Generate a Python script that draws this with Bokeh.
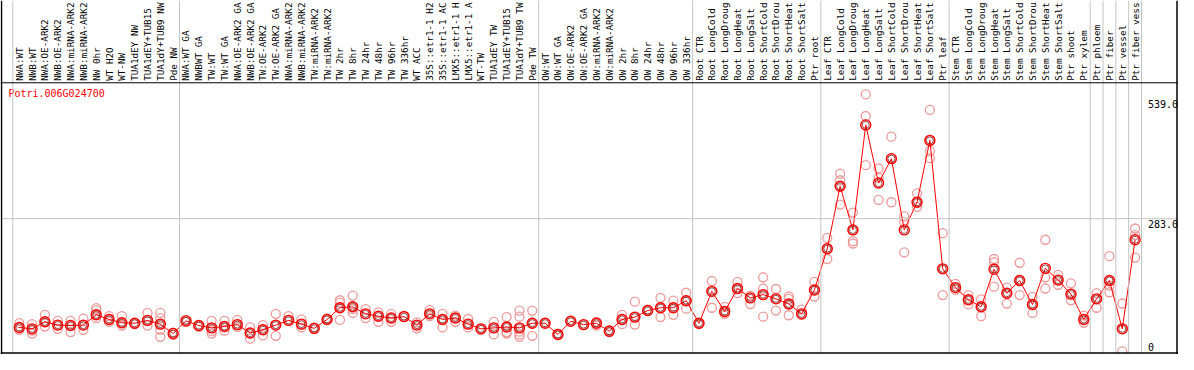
import numpy as np
from bokeh.plotting import figure
from bokeh.models import Range1d, Span
from bokeh.core.properties import value
from bokeh.embed import file_html
from bokeh.resources import INLINE

gene = "Potri.006G024700"

# category labels as they are visible in the header
categories = [
    "NWA:WT", "NWB:WT", "NWA:OE-ARK2", "NWB:OE-ARK2", "NWA:miRNA-ARK2", "NWB:miRNA-ARK2",
    "NW 0hr", "WT H2O", "WT-NW", "TUA1dEY NW", "TUA1dEY+TUB15", "TUA1dY+TUB9 NW", "Pde NW",
    "NWA:WT GA", "NWBWT GA", "TW:WT", "TW:WT GA", "NWA:OE-ARK2 GA", "NWB:OE-ARK2 GA",
    "TW:OE-ARK2", "TW:OE-ARK2 GA", "NWA:miRNA-ARK2", "NWB:miRNA-ARK2", "TW:miRNA-ARK2",
    "TW:miRNA-ARK2", "TW 2hr", "TW 8hr", "TW 24hr", "TW 48hr", "TW 96hr", "TW 336hr",
    "WT ACC", "35S::etr1-1 H2", "35S::etr1-1 AC", "LMX5::etr1-1 H", "LMX5::etr1-1 A",
    "WT-TW", "TUA1dEY TW", "TUA1dEY+TUB15", "TUA1dY+TUB9 TW", "Pde TW",
    "OW:WT", "OW:WT GA", "OW:OE-ARK2", "OW:OE-ARK2 GA", "OW:miRNA-ARK2", "OW:miRNA-ARK2",
    "OW 2hr", "OW 8hr", "OW 24hr", "OW 48hr", "OW 96hr", "OW 336hr",
    "Root CTR", "Root LongCold", "Root LongDroug", "Root LongHeat", "Root LongSalt",
    "Root ShortCold", "Root ShortDrou", "Root ShortHeat", "Root ShortSalt", "Ptr root",
    "Leaf CTR", "Leaf LongCold", "Leaf LongDroug", "Leaf LongHeat", "Leaf LongSalt",
    "Leaf ShortCold", "Leaf ShortDrou", "Leaf ShortHeat", "Leaf ShortSalt", "Ptr leaf",
    "Stem CTR", "Stem LongCold", "Stem LongDroug", "Stem LongHeat", "Stem LongSalt",
    "Stem ShortCold", "Stem ShortDrou", "Stem ShortHeat", "Stem ShortSalt", "Ptr shoot",
    "Ptr xylem", "Ptr phloem", "Ptr fiber", "Ptr vessel", "Ptr fiber vess",
]

group_sizes = [13, 28, 12, 10, 10, 11, 1, 1, 1, 1]

means = [
    51, 48, 63, 56, 55, 56, 78, 68, 61, 60, 66, 58, 38,
    65, 55, 50, 53, 57, 39, 46, 56, 66, 58, 49, 68, 93, 95, 80, 75, 71, 74,
    56, 80, 68, 71, 58, 48, 50, 52, 50, 60,
    60, 36, 64, 57, 60, 43, 68, 73, 87, 93, 93, 108,
    60, 128, 85, 134, 114, 121, 112, 101, 80, 131,
    219, 352, 259, 483, 359, 411, 259, 318, 450, 176,
    136, 110, 95, 175, 124, 151, 100, 177, 152, 122, 68,
    112, 151, 48, 238,
]

replicates = [
    [60, 51, 46], [58, 48, 38, 44], [78, 63, 53], [65, 56, 48], [65, 55, 41], [70, 56, 46],
    [92, 88, 78, 71], [75, 68, 63], [75, 61, 55], [60, 58], [82, 66, 55],
    [82, 71, 58, 46, 31], [40, 35],
    [67, 63], [55, 52], [65, 50, 43, 38], [65, 53, 44], [67, 57, 52], [51, 39, 27],
    [56, 46, 34], [80, 56, 33], [75, 66], [68, 58, 51], [51, 49], [70, 68],
    [109, 104, 93, 67], [119, 95, 82, 90], [90, 80, 71], [83, 75, 63], [80, 71, 63],
    [76, 74], [62, 56, 49], [88, 80, 75], [80, 68, 51], [76, 71, 63], [69, 58, 51],
    [49, 46], [63, 50, 36], [73, 52, 41, 38], [87, 74, 50, 42, 36, 31], [87, 60, 33],
    [60], [37, 35], [66, 64], [57], [63, 60, 55], [45, 41], [78, 68, 58],
    [106, 73, 57], [89, 87], [114, 93, 73], [108, 93, 78], [125, 108, 91],
    [60, 58], [150, 128, 93], [95, 85, 80], [148, 134, 124], [119, 114, 101],
    [158, 134, 121, 74], [133, 112, 87], [117, 112, 101, 77], [89, 80, 78], [148, 131, 117],
    [242, 219, 197], [379, 365, 352, 313], [296, 259, 235, 230], [548, 502, 397],
    [390, 370, 323], [458, 411, 318], [288, 275, 211], [337, 318, 308],
    [515, 450, 427, 412], [252, 176, 120],
    [144, 136, 131], [120, 110, 100], [111, 95, 75], [197, 190, 138], [136, 124, 102],
    [189, 151, 120], [116, 100, 82], [238, 158, 134], [163, 152, 142], [145, 122, 109],
    [76, 68, 61],
    [124, 112, 93], [203, 151, 140, 126], [102, 48, 0], [262, 248, 200],
]

tick_values = [0, 283, 539]
tick_labels = ["0", "283.0", "539.0"]

# ---- layout (reference pixel geometry) ----
REF_W, REF_H = 1194, 370
X0, STEP = 19.0, 13.0          # pixel of first category, pixel step
ZERO_Y, PX_PER_UNIT = 366.7, 0.49
HEADER_PX = 86
W, H = 1178, 354
FONT = value("DejaVu Sans Mono")


def xpx(px):
    return (px - X0) / STEP


def ypx(py):
    return (ZERO_Y - py) / PX_PER_UNIT


n = len(categories)
idx = list(range(n))

p = figure(width=W, height=H, output_backend="svg", toolbar_location=None,
           x_range=Range1d(xpx(0), xpx(REF_W)), y_range=Range1d(ypx(REF_H), ypx(0)),
           x_axis_location=None, y_axis_location=None, min_border=0,
           background_fill_color="white", border_fill_color="white")
p.xgrid.visible = False
p.ygrid.visible = False
p.outline_line_color = None

GRID = "#c4c4c4"
# vertical group separators
bounds = [-0.5] + [b - 0.5 for b in np.cumsum(group_sizes)]
for b in bounds:
    p.add_layout(Span(location=b, dimension="height", line_color=GRID, line_width=1))
# horizontal reference line(s)
for t in tick_values[1:-1]:
    p.add_layout(Span(location=t, dimension="width", line_color=GRID, line_width=1))
# frame lines
p.add_layout(Span(location=ypx(HEADER_PX), dimension="width", line_color="black", line_width=1))
p.add_layout(Span(location=xpx(1), dimension="height", line_color="black", line_width=1.5))
p.add_layout(Span(location=xpx(REF_W - 1.5), dimension="height", line_color="black", line_width=1.5))
p.add_layout(Span(location=ypx(REF_H - 1.5), dimension="width", line_color="black", line_width=1.5))

# category labels in header
p.text(x=idx, y=[ypx(HEADER_PX - 2)] * n, text=categories, angle=np.pi / 2,
       text_align="left", text_baseline="middle", text_font=FONT,
       text_font_size="9.3px", text_color="black")

# title
p.text(x=[xpx(8)], y=[ypx(97.5)], text=[gene], text_align="left", text_baseline="middle",
       text_font=FONT, text_font_size="10px", text_color="red")

# right-side value labels
lab_x = n
top_t = [t for t in tick_values if t - 12 / PX_PER_UNIT >= ypx(REF_H)]
top_l = [l for t, l in zip(tick_values, tick_labels) if t in top_t]
bot_t = [t for t in tick_values if t not in top_t]
bot_l = [l for t, l in zip(tick_values, tick_labels) if t in bot_t]
p.text(x=[lab_x] * len(top_t), y=top_t, text=top_l, text_align="left", text_baseline="top",
       y_offset=1, text_font=FONT, text_font_size="10px", text_color="black")
p.text(x=[lab_x] * len(bot_t), y=bot_t, text=bot_l, text_align="left", text_baseline="bottom",
       text_font=FONT, text_font_size="10px", text_color="black")

# replicate circles
rx, ry = [], []
for i, reps in enumerate(replicates):
    for v in reps:
        rx.append(i)
        ry.append(v)
p.scatter(rx, ry, marker="circle", size=9, fill_color=None, line_color="#ee9a9a", line_width=1.3)

# mean line and markers
p.line(idx, means, line_color="red", line_width=1)
p.scatter(idx, means, marker="circle", size=10, fill_color=None, line_color="red", line_width=1.4)
p.scatter(idx, means, marker="circle", size=7, fill_color=None, line_color="#700000", line_width=0.7)

open("out.html", "w").write(file_html(p, INLINE))
